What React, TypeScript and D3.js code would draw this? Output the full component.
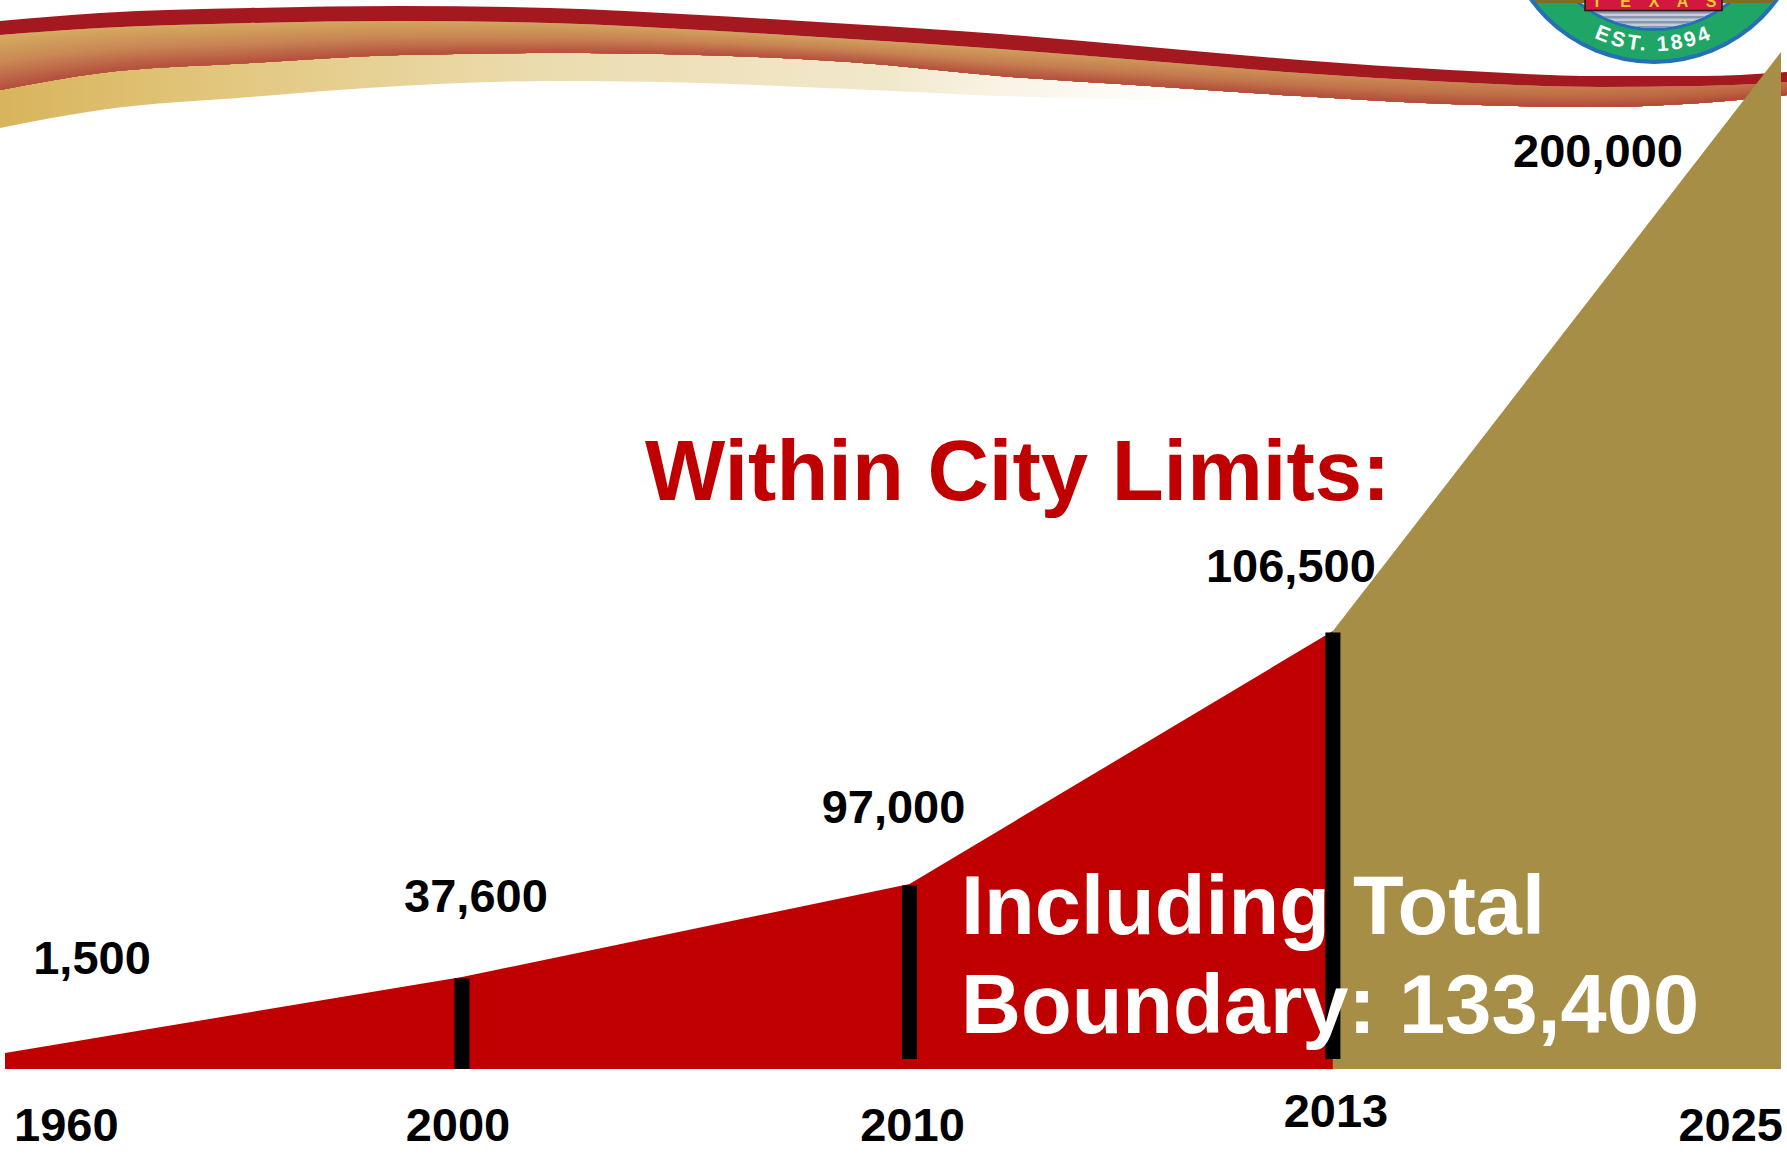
import React from "react";
import * as d3 from "d3";

// ---------- data ----------
const years = [1960, 2000, 2010, 2013, 2025];
const population = [1500, 37600, 97000, 106500, 200000];
const markerYears = [2000, 2010, 2013];
const cityLimitsEndYear = 2013; // red (within city limits) ends here, gold projection follows
const titleText = "Within City Limits:";
const totalBoundaryLines = ["Including Total", "Boundary: 133,400"];
const sealTop = "TEXAS";
const sealBottom = "EST. 1894";

// ---------- layout ----------
const W = 1787;
const H = 1154;
const plotLeft = 5;
const plotRight = 1781;
const baseY = 1069;
const topY = 52;
// infographic's non-proportional axes (break points as fractions of the plot)
const xBreaks = [0, 0.2573, 0.5093, 0.7477, 1];
const yBreaks = [0, 0.0157, 0.0905, 0.1819, 0.4307, 1];

const x = d3
  .scaleLinear()
  .domain(years)
  .range(xBreaks.map((f) => plotLeft + f * (plotRight - plotLeft)));
const y = d3
  .scaleLinear()
  .domain([0, ...population])
  .range(yBreaks.map((f) => baseY - f * (baseY - topY)));

const fmt = d3.format(",");
const FONT = "'Liberation Sans', Arial, Helvetica, sans-serif";
const RED = "#C00000";
const GOLD = "#A68E47";

// value label placement relative to its point
const valueLabelOffsets = [
  { dx: 87, dy: -79 },
  { dx: 14, dy: -65 },
  { dx: -16, dy: -61 },
  { dx: -42, dy: -49 },
  { dx: -183, dy: 115 },
];
const yearLabelPlacement = [
  { dx: 9, anchor: "start", base: 1141 },
  { dx: -4, anchor: "middle", base: 1141 },
  { dx: 3, anchor: "middle", base: 1141 },
  { dx: 3, anchor: "middle", base: 1127 },
  { dx: 2, anchor: "end", base: 1141 },
];

// decorative header swoosh profile
const swX = [0, 100, 250, 400, 550, 700, 850, 1000, 1150, 1300, 1450, 1600, 1700, 1787];
const swRedTop = [21, 13, 8, 6, 8, 15, 24, 34, 47, 60, 70, 76, 76, 72];
const swRedBot = [35, 28, 23, 21, 23, 30, 39, 49, 61, 73, 82, 87, 86, 82];
const swBrownBot = [90, 73, 63, 55, 53, 55, 62, 76, 86, 96, 104, 107, 103, 95];
const swCreamBot = [128, 110, 97, 86, 81, 83, 89, 96, 100, 104, 108, 110, 105, 96];

function band(top: number[], bot: number[]) {
  const pts = swX.map((xx, i) => ({ x: xx, t: top[i], b: bot[i] }));
  return (
    d3
      .area<{ x: number; t: number; b: number }>()
      .x((d) => d.x)
      .y0((d) => d.b)
      .y1((d) => d.t)
      .curve(d3.curveMonotoneX)(pts) || ""
  );
}

function Swoosh() {
  const N = 24;
  const colTop = d3.interpolateRgb("#D5AC60", "#C98755");
  const colBot = d3.interpolateRgb("#C98755", "#B44F3D");
  // each slice runs from its top to the band bottom, painted top-down: no seams
  const slices = d3.range(N).map((i) => {
    const t0 = i / N;
    const top = swRedBot.map((v, k) => v + (swBrownBot[k] - v) * t0);
    const t = (i + 0.5) / N;
    const color = t < 0.5 ? colTop(t * 2) : colBot((t - 0.5) * 2);
    return { d: band(top, swBrownBot), color };
  });
  return (
    <g>
      <defs>
        <linearGradient id="creamGrad" x1="0" x2="1" y1="0" y2="0">
          <stop offset="0" stopColor="#D8B45C" />
          <stop offset="0.12" stopColor="#E2C67C" />
          <stop offset="0.3" stopColor="#EBDCAE" />
          <stop offset="0.5" stopColor="#F2E8CC" />
          <stop offset="0.72" stopColor="#FFFFFF" stopOpacity="0" />
        </linearGradient>
        <linearGradient id="brownShade" x1="0" x2="1" y1="0" y2="0">
          <stop offset="0" stopColor="#B5533E" stopOpacity="0" />
          <stop offset="0.55" stopColor="#B5533E" stopOpacity="0.15" />
          <stop offset="1" stopColor="#B0402F" stopOpacity="0.55" />
        </linearGradient>
      </defs>
      <path d={band(swBrownBot, swCreamBot)} fill="url(#creamGrad)" />
      {slices.map((s, i) => (
        <path key={i} d={s.d} fill={s.color} />
      ))}
      <path d={band(swRedBot, swBrownBot)} fill="url(#brownShade)" />
      <path d={band(swRedTop, swRedBot)} fill="#A3191F" />
    </g>
  );
}

function Seal() {
  const cx = 1654;
  const cy = -90;
  const rText = 141;
  const arc = `M ${cx - rText} ${cy} A ${rText} ${rText} 0 0 0 ${cx + rText} ${cy}`;
  const letters = sealTop.split("");
  return (
    <g>
      <defs>
        <clipPath id="sealInner">
          <circle cx={cx} cy={cy} r={118} />
        </clipPath>
        <clipPath id="sealOuter">
          <circle cx={cx} cy={cy} r={150} />
        </clipPath>
        <path id="estArc" d={arc} />
      </defs>
      <circle cx={cx} cy={cy} r={154} fill="#2370B4" />
      <circle cx={cx} cy={cy} r={150} fill="#1FA566" />
      <circle cx={cx} cy={cy} r={121} fill="#2370B4" />
      <circle cx={cx} cy={cy} r={118} fill="#C3CDD8" />
      <g clipPath="url(#sealInner)">
        {[11, 16, 21, 26].map((yy) => (
          <rect key={yy} x={cx - 120} y={yy} width={240} height={2.5} fill="#8597AD" />
        ))}
      </g>
      <g clipPath="url(#sealOuter)">
        <rect x={cx - 160} y={-20} width={320} height={23} fill="#7E6D22" />
        <rect x={cx - 160} y={-20} width={320} height={20} fill="#A38F35" />
      </g>
      <rect x={1585} y={-15} width={137} height={25.5} fill="#D3183F" stroke="#2A1A12" strokeWidth={1.6} />
      {letters.map((c, i) => (
        <text
          key={i}
          x={cx + (i - 2) * 28.5}
          y={7}
          textAnchor="middle"
          fontFamily={FONT}
          fontWeight="bold"
          fontSize={16}
          fill="#F4C534"
        >
          {c}
        </text>
      ))}
      <text fontFamily={FONT} fontWeight="bold" fontSize={21} fill="#FFFFFF" letterSpacing={3}>
        <textPath href="#estArc" startOffset="50%" textAnchor="middle">
          {sealBottom}
        </textPath>
      </text>
    </g>
  );
}

export default function App() {
  const pts = years.map((yr, i) => ({ yr, v: population[i] }));
  const area = d3
    .area<{ yr: number; v: number }>()
    .x((d) => x(d.yr))
    .y0(() => y(0))
    .y1((d) => y(d.v));
  const redPts = pts.filter((p) => p.yr <= cityLimitsEndYear);
  const goldPts = pts.filter((p) => p.yr >= cityLimitsEndYear);

  const barW = 15;
  return (
    <svg
      width={W}
      height={H}
      viewBox={`0 0 ${W} ${H}`}
      style={{ position: "absolute", left: 0, top: 0, background: "#FFFFFF" }}
    >
      <rect x={0} y={0} width={W} height={H} fill="#FFFFFF" />
      <Swoosh />
      <Seal />

      <path d={area(redPts) || ""} fill={RED} />
      <path d={area(goldPts) || ""} fill={GOLD} />

      {markerYears.map((yr, i) => {
        const v = population[years.indexOf(yr)];
        const top = y(v) + 1.5;
        const bottom = i === 0 ? y(0) : y(0) - 10;
        return (
          <rect key={yr} x={x(yr) - barW / 2} y={top} width={barW} height={bottom - top} fill="#000000" />
        );
      })}

      {pts.map((p, i) => (
        <text
          key={"v" + p.yr}
          x={x(p.yr) + valueLabelOffsets[i].dx}
          y={y(p.v) + valueLabelOffsets[i].dy}
          textAnchor="middle"
          fontFamily={FONT}
          fontWeight="bold"
          fontSize={47}
          fill="#000000"
        >
          {fmt(p.v)}
        </text>
      ))}

      {pts.map((p, i) => (
        <text
          key={"y" + p.yr}
          x={x(p.yr) + yearLabelPlacement[i].dx}
          y={yearLabelPlacement[i].base}
          textAnchor={yearLabelPlacement[i].anchor as any}
          fontFamily={FONT}
          fontWeight="bold"
          fontSize={47}
          fill="#000000"
        >
          {p.yr}
        </text>
      ))}

      <text x={645} y={500} fontFamily={FONT} fontWeight="bold" fontSize={85} fill={RED}>
        {titleText}
      </text>

      {totalBoundaryLines.map((line, i) => (
        <text
          key={line}
          x={961}
          y={934 + i * 99}
          fontFamily={FONT}
          fontWeight="bold"
          fontSize={83}
          fill="#FFFFFF"
        >
          {line}
        </text>
      ))}
    </svg>
  );
}
